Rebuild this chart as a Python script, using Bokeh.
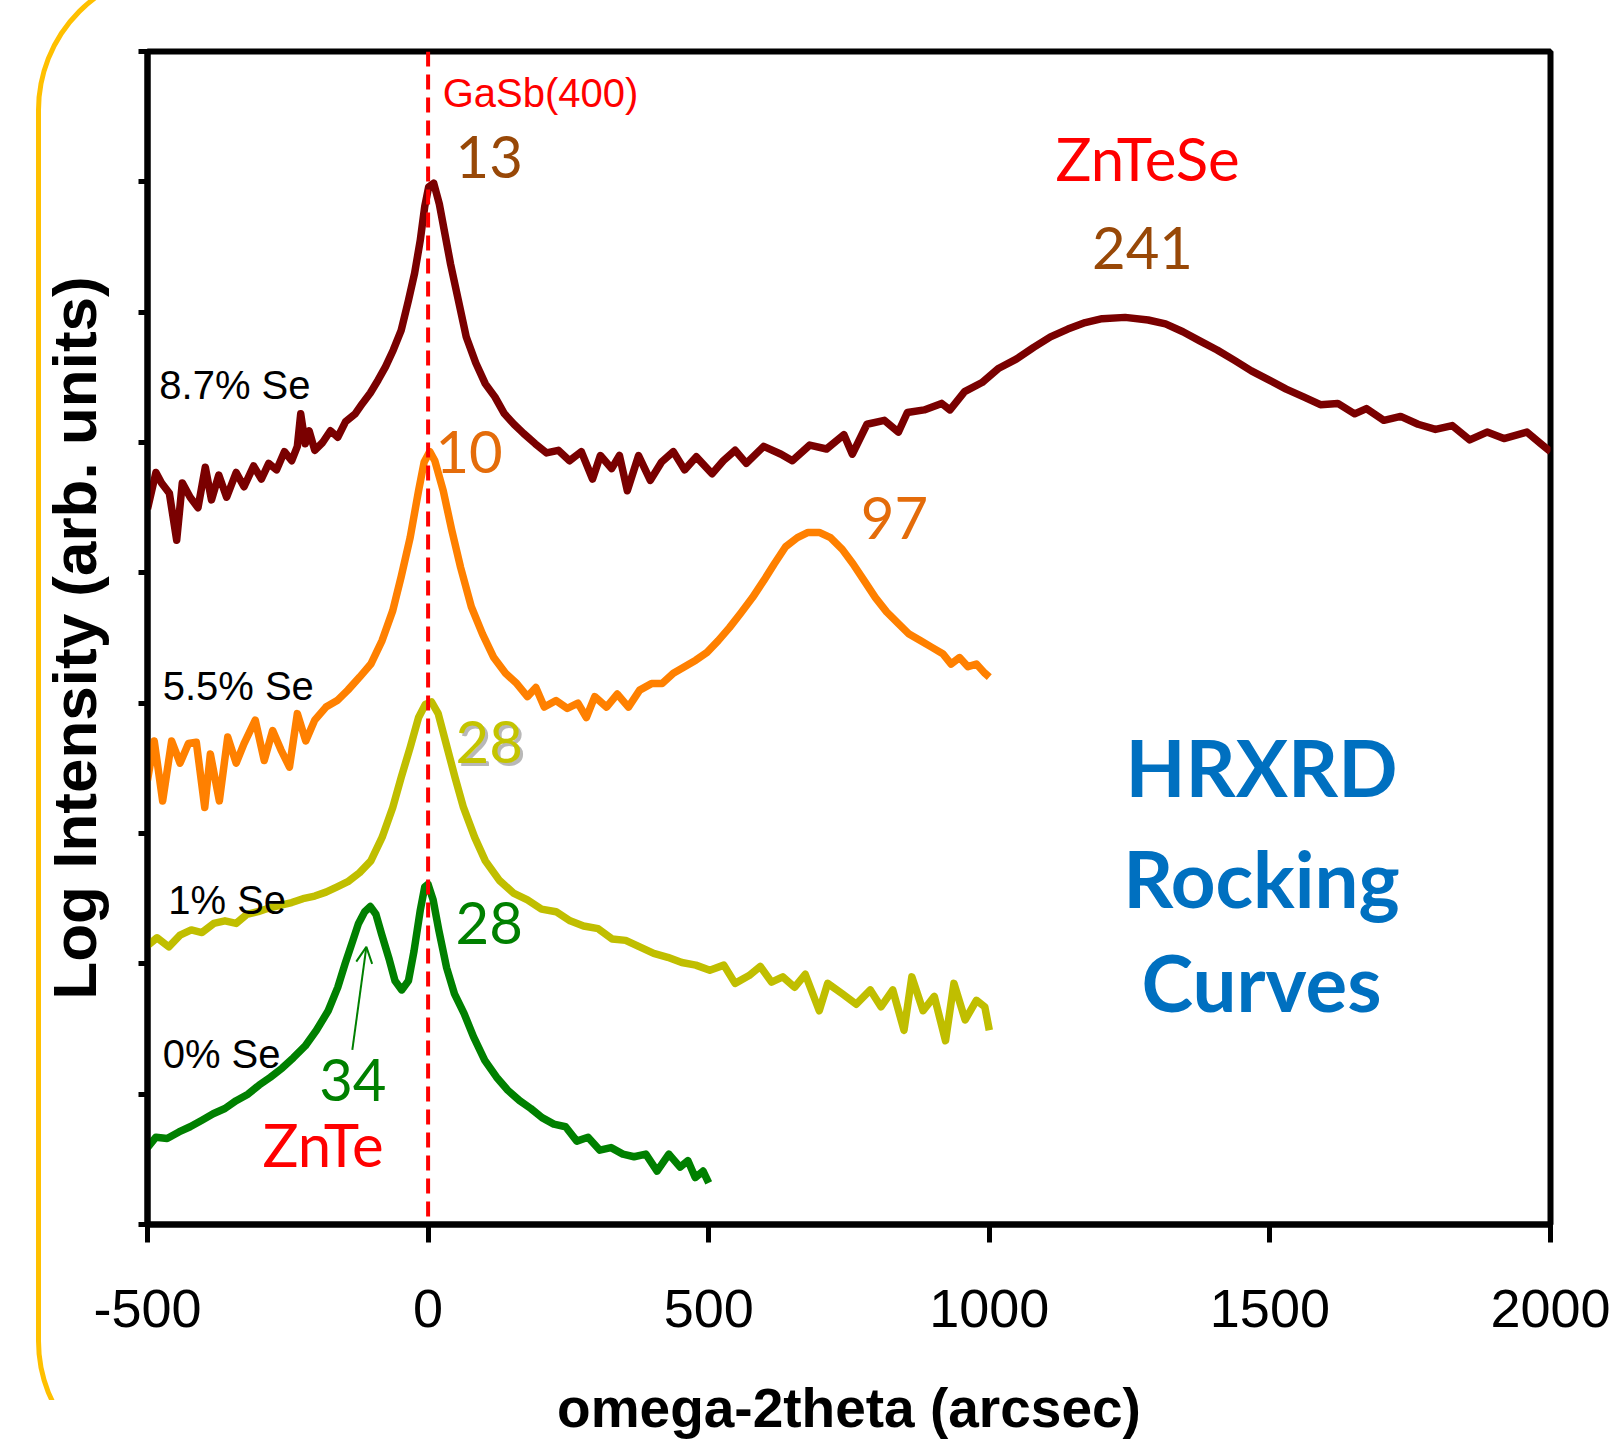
from bokeh.plotting import figure
from bokeh.models import Range1d, FixedTicker, Arrow, OpenHead, Span, Label, InlineStyleSheet
from bokeh.embed import file_html
from bokeh.resources import INLINE

# ---------------- data (omega-2theta in arcsec, log intensity in arb. units) -------------
x_87 = [-500, -485, -475, -461, -448, -438, -424, -410, -397, -386, -373, -359, -342, -328,
        -311, -297, -284, -270, -256, -243, -233, -227, -219, -212, -202, -188, -174, -161,
        -147, -130, -117, -103, -89, -76, -62, -48, -35, -24, -14, -6, 1, 10, 20, 30, 40, 54,
        68, 85, 102, 119, 136, 153, 170, 191, 211, 232, 252, 273, 293, 307, 327, 341, 355,
        375, 396, 416, 437, 457, 478, 506, 526, 547, 567, 598, 629, 649, 680, 710, 741, 756,
        782, 813, 838, 854, 884, 915, 930, 956, 987, 1017, 1048, 1079, 1109, 1140, 1171, 1201,
        1242, 1283, 1314, 1345, 1375, 1406, 1437, 1467, 1498, 1529, 1560, 1590, 1621, 1651,
        1672, 1703, 1733, 1764, 1795, 1825, 1856, 1887, 1917, 1958, 1983, 2000]
y_87 = [5.49, 5.77, 5.69, 5.61, 5.25, 5.69, 5.58, 5.50, 5.81, 5.56, 5.75, 5.58, 5.77, 5.66,
        5.82, 5.72, 5.84, 5.79, 5.93, 5.86, 5.97, 6.22, 5.99, 6.09, 5.94, 6.00, 6.09, 6.04,
        6.16, 6.22, 6.30, 6.38, 6.48, 6.58, 6.71, 6.86, 7.09, 7.30, 7.55, 7.81, 7.96, 7.99,
        7.83, 7.60, 7.37, 7.09, 6.81, 6.61, 6.45, 6.35, 6.22, 6.14, 6.07, 5.99, 5.92, 5.94,
        5.86, 5.93, 5.72, 5.90, 5.80, 5.90, 5.63, 5.90, 5.71, 5.85, 5.93, 5.79, 5.89, 5.76,
        5.86, 5.94, 5.84, 5.97, 5.91, 5.86, 5.98, 5.95, 6.06, 5.91, 6.14, 6.17, 6.08, 6.23,
        6.25, 6.30, 6.25, 6.39, 6.46, 6.57, 6.64, 6.73, 6.81, 6.87, 6.92, 6.95, 6.96, 6.94,
        6.91, 6.85, 6.78, 6.71, 6.63, 6.55, 6.48, 6.41, 6.35, 6.29, 6.30, 6.22, 6.26, 6.17,
        6.20, 6.14, 6.10, 6.13, 6.02, 6.08, 6.03, 6.08, 5.99, 5.93]

x_55 = [-500, -488, -473, -457, -442, -427, -413, -398, -388, -372, -357, -342, -328, -308,
        -292, -277, -262, -247, -233, -218, -202, -182, -162, -143, -122, -102, -82, -63, -48,
        -32, -17, -7, 3, 12, 27, 42, 58, 77, 97, 117, 138, 158, 177, 192, 207, 228, 248, 267,
        282, 297, 318, 337, 357, 377, 398, 417, 437, 457, 477, 497, 517, 537, 557, 578, 598,
        617, 637, 658, 677, 697, 717, 738, 757, 777, 797, 817, 838, 857, 877, 897, 917, 932,
        947, 962, 977, 992, 1000]
y_55 = [3.41, 3.71, 3.25, 3.71, 3.54, 3.69, 3.70, 3.20, 3.61, 3.25, 3.74, 3.54, 3.69, 3.87,
        3.56, 3.79, 3.64, 3.51, 3.92, 3.71, 3.87, 3.97, 4.02, 4.10, 4.20, 4.30, 4.48, 4.71,
        4.97, 5.27, 5.63, 5.85, 5.93, 5.86, 5.63, 5.33, 5.04, 4.74, 4.53, 4.35, 4.23, 4.15,
        4.05, 4.12, 3.97, 4.02, 3.96, 4.00, 3.89, 4.05, 3.97, 4.07, 3.97, 4.10, 4.15, 4.15,
        4.23, 4.28, 4.33, 4.39, 4.48, 4.58, 4.69, 4.81, 4.94, 5.07, 5.20, 5.27, 5.31, 5.31,
        5.27, 5.18, 5.07, 4.94, 4.81, 4.70, 4.61, 4.53, 4.48, 4.43, 4.38, 4.30, 4.35, 4.28,
        4.30, 4.23, 4.20]

x_10 = [-500, -483, -462, -442, -422, -403, -382, -362, -342, -323, -303, -282, -262, -243,
        -223, -202, -182, -162, -143, -122, -102, -82, -63, -48, -32, -17, -5, 6, 18, 32, 48,
        63, 83, 102, 127, 153, 177, 202, 228, 253, 277, 303, 328, 352, 377, 402, 427, 452,
        477, 502, 527, 547, 572, 592, 612, 632, 653, 672, 697, 712, 738, 763, 788, 807, 828,
        848, 862, 882, 902, 922, 937, 957, 977, 992, 1000]
y_10 = [2.14, 2.20, 2.13, 2.22, 2.26, 2.24, 2.31, 2.33, 2.31, 2.38, 2.40, 2.43, 2.45, 2.47,
        2.50, 2.52, 2.55, 2.59, 2.63, 2.70, 2.79, 2.97, 3.20, 3.43, 3.66, 3.89, 3.99, 4.01,
        3.92, 3.69, 3.43, 3.20, 2.97, 2.79, 2.64, 2.54, 2.49, 2.42, 2.40, 2.33, 2.29, 2.27,
        2.19, 2.18, 2.13, 2.08, 2.05, 2.01, 1.99, 1.95, 1.99, 1.85, 1.91, 1.98, 1.86, 1.90,
        1.82, 1.92, 1.64, 1.85, 1.77, 1.69, 1.80, 1.67, 1.80, 1.49, 1.90, 1.64, 1.75, 1.41,
        1.85, 1.57, 1.72, 1.67, 1.49]

x_00 = [-500, -485, -465, -444, -424, -403, -383, -362, -342, -321, -301, -281, -260, -240,
        -219, -199, -178, -161, -148, -134, -124, -113, -103, -93, -83, -69, -59, -47, -35,
        -25, -14, -6, 0, 9, 19, 33, 47, 64, 81, 101, 122, 142, 163, 183, 203, 224, 245, 265,
        285, 306, 326, 347, 367, 388, 408, 429, 449, 463, 476, 490, 500]
y_00 = [0.59, 0.67, 0.66, 0.71, 0.75, 0.80, 0.85, 0.89, 0.95, 1.00, 1.07, 1.13, 1.20, 1.28,
        1.37, 1.49, 1.64, 1.82, 2.00, 2.18, 2.31, 2.40, 2.44, 2.38, 2.23, 2.03, 1.87, 1.80,
        1.87, 2.10, 2.41, 2.59, 2.61, 2.49, 2.26, 1.97, 1.77, 1.62, 1.44, 1.26, 1.13, 1.03,
        0.95, 0.89, 0.82, 0.77, 0.75, 0.64, 0.67, 0.57, 0.59, 0.54, 0.52, 0.54, 0.41, 0.54,
        0.44, 0.49, 0.36, 0.41, 0.32]

x_ticks = [-500, 0, 500, 1000, 1500, 2000]
x_tick_labels = ["-500", "0", "500", "1000", "1500", "2000"]
y_ticks = [0, 1, 2, 3, 4, 5, 6, 7, 8, 9]

series_names = ["8.7% Se", "5.5% Se", "1% Se", "0% Se"]
series_name_x = [-479, -473, -463, -473]
series_name_y = [6.44, 4.13, 2.49, 1.31]

# FWHM annotations (arcsec)
fwhm_text = ["13", "241", "10", "97", "28", "28", "34"]
fwhm_x = [49, 1273, 13, 771, 49, 49, -194]
fwhm_y = [8.19, 7.49, 5.93, 5.42, 3.70, 2.31, 1.11]
fwhm_color = ["#984807", "#984807", "#E46C0A", "#E46C0A", "#C4C400", "#008000", "#008000"]
fwhm_align = ["left", "center", "left", "left", "left", "left", "left"]

arrow_start = (-135, 1.34)
arrow_end = (-110, 2.13)

# ---------------- figure ----------------
p = figure(width=1612, height=1441, x_range=Range1d(-500, 2000), y_range=Range1d(0, 9),
           output_backend="svg", toolbar_location=None,
           min_border_left=147, min_border_right=62, min_border_top=51, min_border_bottom=217)
p.background_fill_color = "white"
p.border_fill_color = "white"
p.grid.visible = False
p.outline_line_color = "black"
p.outline_line_width = 6

p.xaxis.ticker = FixedTicker(ticks=x_ticks)
p.xaxis.major_label_overrides = dict(zip(x_ticks, x_tick_labels))
p.yaxis.ticker = FixedTicker(ticks=y_ticks)
p.yaxis.major_label_overrides = {t: "" for t in y_ticks}
for ax in (p.xaxis, p.yaxis):
    ax.axis_line_width = 6
    ax.axis_line_color = "black"
    ax.major_tick_line_width = 5
    ax.major_tick_line_color = "black"
    ax.major_tick_in = 0
    ax.minor_tick_line_color = None
    ax.axis_label_text_font = "Liberation Sans"
    ax.axis_label_text_font_style = "bold"
    ax.axis_label_text_color = "black"
p.xaxis.major_tick_out = 18
p.yaxis.major_tick_out = 9
p.xaxis.major_label_text_font = "Liberation Sans"
p.xaxis.major_label_text_font_size = "54px"
p.xaxis.major_label_text_color = "black"
p.xaxis.major_label_standoff = 47
p.xaxis.axis_label = "omega-2theta (arcsec)"
p.xaxis.axis_label_text_font_size = "55px"
p.xaxis.axis_label_standoff = 47
p.yaxis.axis_label = "Log Intensity (arb. units)"
p.yaxis.axis_label_text_font_size = "62px"
p.yaxis.axis_label_standoff = 30

p.add_layout(Span(location=0, dimension="height", line_color="#FF0000", line_width=4,
                  line_dash="15 8"))

p.line(x_87, y_87, line_color="#7A0000", line_width=7.5, line_join="round")
p.line(x_55, y_55, line_color="#FF8000", line_width=7.5, line_join="round")
p.line(x_10, y_10, line_color="#C0BE00", line_width=7.5, line_join="round")
p.line(x_00, y_00, line_color="#008000", line_width=7.5, line_join="round")

for name, sx, sy in zip(series_names, series_name_x, series_name_y):
    p.add_layout(Label(x=sx, y=sy, text=name, text_font="Liberation Sans",
                       text_font_size="40px", text_color="black", text_baseline="alphabetic"))

p.add_layout(Label(x=26, y=8.68, text="GaSb(400)", text_font="Liberation Sans",
                   text_font_size="40px", text_color="#FF0000", text_baseline="alphabetic"))
p.add_layout(Label(x=1282, y=8.18, text="ZnTeSe", text_font="Lato", text_font_size="60px",
                   text_color="#FF0000", text_align="center", text_baseline="alphabetic"))
p.add_layout(Label(x=-295, y=0.62, text="ZnTe", text_font="Lato", text_font_size="60px",
                   text_color="#FF0000", text_baseline="alphabetic"))

for i, (t, fx, fy, c, al) in enumerate(zip(fwhm_text, fwhm_x, fwhm_y, fwhm_color, fwhm_align)):
    if i == 4:
        p.add_layout(Label(x=fx, y=fy, text=t, text_font="Lato", text_font_size="58px",
                           text_color="#9A9A9A", text_alpha=0.7, x_offset=3, y_offset=-3,
                           text_align=al, text_baseline="alphabetic"))
    p.add_layout(Label(x=fx, y=fy, text=t, text_font="Lato", text_font_size="58px",
                       text_color=c, text_align=al, text_baseline="alphabetic"))

p.add_layout(Arrow(x_start=arrow_start[0], y_start=arrow_start[1], x_end=arrow_end[0],
                   y_end=arrow_end[1], line_color="#008000", line_width=2,
                   end=OpenHead(size=16, line_color="#008000", line_width=2)))

title_lines = ["HRXRD", "Rocking", "Curves"]
title_y = [3.51, 2.66, 1.86]
for t, ty in zip(title_lines, title_y):
    p.add_layout(Label(x=1485, y=ty, text=t, text_font="Lato", text_font_style="bold",
                       text_font_size="78px", text_color="#0070C0", text_align="center",
                       text_baseline="alphabetic"))

css = """
:host { position: relative; overflow: hidden; }
:host::after { content: ""; position: absolute; left: 36px; top: -32px; width: 1700px;
  height: 1515px; border: 5px solid #FFC000; border-radius: 142px; box-sizing: border-box;
  pointer-events: none; z-index: 5; }
:host::before { content: ""; position: absolute; left: 30px; top: 1400px; width: 120px;
  height: 60px; background: white; pointer-events: none; z-index: 6; }
"""
p.stylesheets = [InlineStyleSheet(css=css)]

open("out.html", "w").write(file_html(p, INLINE))
